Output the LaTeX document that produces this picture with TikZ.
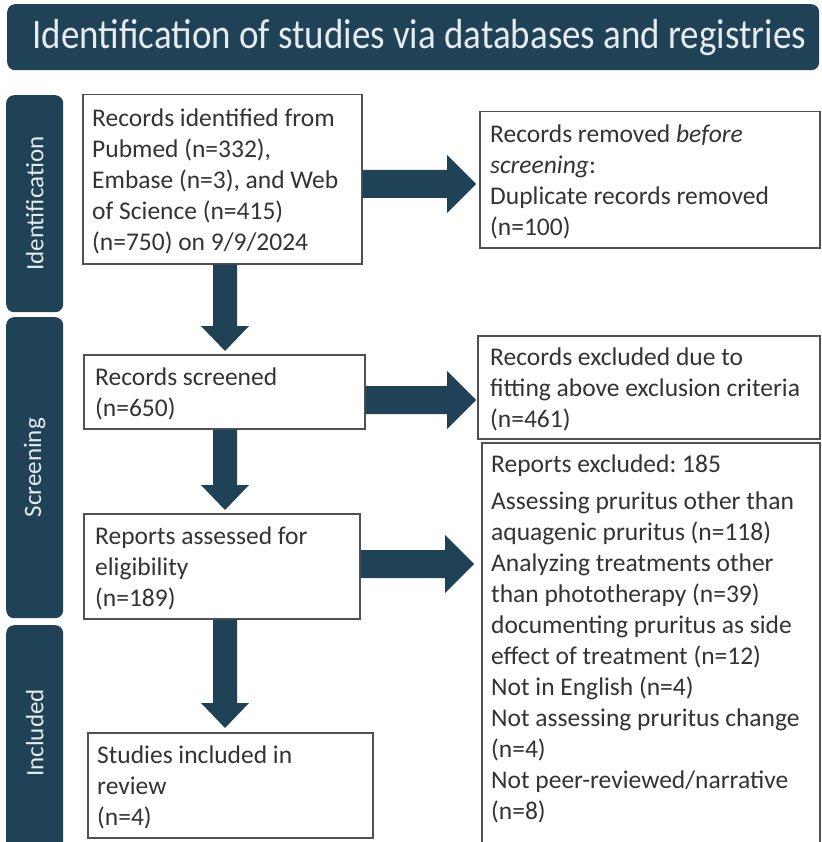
\documentclass[tikz,border=0pt]{standalone}
\usepackage{fontspec}
\usepackage{graphicx}
\setmainfont{Carlito}
\frenchspacing
\usetikzlibrary{calc}
\definecolor{navy}{HTML}{1F4257}
\definecolor{boxline}{HTML}{505050}
\definecolor{txt}{HTML}{333333}
\definecolor{bartxt}{HTML}{E6EBEE}
\newcommand\harr[2]{\fill[navy] ($(#1)+(0,-14)$) -- ($(#2)+(-29,-14)$) -- ($(#2)+(-29,-29)$) -- (#2) -- ($(#2)+(-29,29)$) -- ($(#2)+(-29,14)$) -- ($(#1)+(0,14)$) -- cycle;}
\newcommand\varr[2]{\fill[navy] ($(#1)+(-12,0)$) -- ($(#2)+(-12,-25)$) -- ($(#2)+(-24,-25)$) -- (#2) -- ($(#2)+(24,-25)$) -- ($(#2)+(12,-25)$) -- ($(#1)+(12,0)$) -- cycle;}
\begin{document}
\begin{tikzpicture}[x=1pt,y=-1pt,
  box/.style={draw=boxline, line width=1.5pt, fill=white, inner sep=0pt, anchor=north west},
  boxtext/.style={text=txt, font=\fontsize{25.5}{31}\selectfont\frenchspacing, align=left, anchor=west, inner sep=0pt},
  bar/.style={fill=navy, rounded corners=8pt, inner sep=0pt, anchor=north west, minimum width=57pt},
  bartext/.style={text=bartxt, font=\fontsize{25}{29}\selectfont, rotate=90, inner sep=0pt}]
\useasboundingbox (0,0) rectangle (821,842);
\clip (0,0) rectangle (821,842);
% header
\node[fill=navy, rounded corners=8pt, minimum width=812pt, minimum height=66pt, anchor=north west, inner sep=0pt] (hdr) at (7,4) {};
\node[text=bartxt, font=\fontsize{42}{50}\selectfont, inner sep=0pt] (hdrt) at ($(hdr.center)+(6,0)$) {\scalebox{0.88}[1]{Identification of studies via databases and registries}};
% side bars
\node[bar, minimum height=217pt] (bar1) at (6,95) {};
\node[bar, minimum height=301pt] (bar2) at (6,317) {};
\node[bar, minimum height=235pt] (bar3) at (6,625) {};
\node[bartext] (bt1) at (bar1.center) {Identification};
\node[bartext] (bt2) at (bar2.center) {Screening};
\node[bartext] (bt3) at ($(bar3.north)+(0,108)$) {Included};
% boxes
\node[box, minimum width=279pt, minimum height=169pt] (b1) at (82,94) {};
\node[boxtext] (t1) at ($(b1.west)+(10,2)$) {Records identified from\\Pubmed (n=332),\\Embase (n=3), and Web\\of Science (n=415)\\(n=750) on 9/9/2024};
\node[box, minimum width=340pt, minimum height=136pt] (b2) at (479,111) {};
\node[boxtext] (t2) at ($(b2.west)+(11,2)$) {Records removed \textit{before}\\\textit{screening}:\\Duplicate records removed\\(n=100)};
\node[box, minimum width=281pt, minimum height=74pt] (b3) at (83,354) {};
\node[boxtext] (t3) at ($(b3.west)+(12,2)$) {Records screened\\(n=650)};
\node[box, minimum width=342pt, minimum height=103pt] (b4) at (477,335) {};
\node[boxtext] (t4) at ($(b4.west)+(13,2)$) {Records excluded due to\\fitting above exclusion criteria\\(n=461)};
\node[box, minimum width=276pt, minimum height=105pt] (b5) at (83,513) {};
\node[boxtext] (t5) at ($(b5.west)+(12,2)$) {Reports assessed for\\eligibility\\(n=189)};
\node[box, minimum width=338pt, minimum height=420pt] (b6) at (481,442) {};
\node[boxtext, anchor=north west] (t6) at (491,455) {Reports excluded: 185\\[6pt]Assessing pruritus other than\\aquagenic pruritus (n=118)\\Analyzing treatments other\\than phototherapy (n=39)\\documenting pruritus as side\\effect of treatment (n=12)\\Not in English (n=4)\\Not assessing pruritus change\\(n=4)\\Not peer-reviewed/narrative\\(n=8)};
\node[box, minimum width=285pt, minimum height=105pt] (b7) at (87,732) {};
\node[boxtext] (t7) at ($(b7.west)+(10,2)$) {Studies included in\\review\\(n=4)};
% arrows
\coordinate (xa) at (225,0);
\coordinate (h1s) at (b1.east |- 0,184);
\coordinate (h1e) at ($(b2.west |- 0,184)+(-3,0)$);
\harr{h1s}{h1e}
\coordinate (h2s) at (b3.east |- 0,400);
\coordinate (h2e) at ($(b4.west |- 0,400)+(-1,0)$);
\harr{h2s}{h2e}
\coordinate (h3s) at (b5.east |- 0,564);
\coordinate (h3e) at ($(b6.west |- 0,564)+(-7,0)$);
\harr{h3s}{h3e}
\coordinate (v1s) at (xa |- b1.south);
\coordinate (v1e) at ($(xa |- b3.north)+(0,-3)$);
\varr{v1s}{v1e}
\coordinate (v2s) at (xa |- b3.south);
\coordinate (v2e) at ($(xa |- b5.north)+(0,-3)$);
\varr{v2s}{v2e}
\coordinate (v3s) at (xa |- b5.south);
\coordinate (v3e) at ($(xa |- b7.north)+(0,-4)$);
\varr{v3s}{v3e}
\end{tikzpicture}
\end{document}
